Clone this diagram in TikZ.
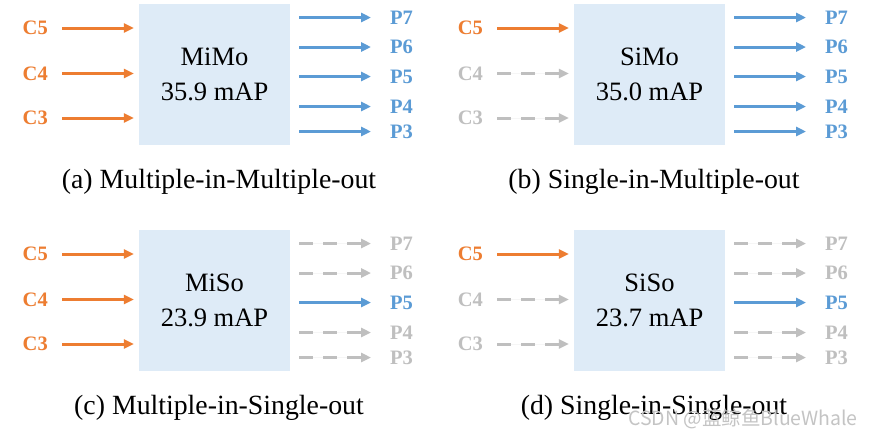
\documentclass[tikz,border=0pt]{standalone}
\usepackage{fontspec}
\setmainfont{Liberation Serif}
\newfontfamily\cjkwm{Noto Sans CJK SC}
\usetikzlibrary{arrows.meta}
\definecolor{orng}{HTML}{ED7D31}
\definecolor{blu}{HTML}{5B9BD5}
\definecolor{boxbg}{HTML}{DEEBF7}
\definecolor{gry}{HTML}{BFBFBF}
\definecolor{wmgry}{HTML}{C4C4C4}
\tikzset{
  arr/.style={line width=3pt, -{Triangle[length=10pt,width=9pt]}},
  inon/.style={arr, draw=orng, fill=orng},
  inoff/.style={arr, draw=gry, fill=gry, dash pattern=on 14pt off 10pt},
  outon/.style={arr, draw=blu, fill=blu},
  outoff/.style={arr, draw=gry, fill=gry, dash pattern=on 14pt off 10pt},
  labinon/.style={text=orng},
  labinoff/.style={text=gry},
  laboutson/.style={text=blu},
  laboutsoff/.style={text=gry},
  lab/.style={inner sep=0pt, font=\fontsize{20.5}{20.5}\selectfont\bfseries},
  core/.style={fill=boxbg, minimum width=151pt, minimum height=141pt, align=center,
    font=\fontsize{26.5}{35}\selectfont, inner sep=0pt},
  capt/.style={font=\fontsize{27.8}{30}\selectfont, inner sep=0pt},
  inarr/.style={shorten <=14pt, shorten >=5pt},
  outarr/.style={shorten <=9pt, shorten >=19pt},
}
\newcommand\fpnpanel[7]{%
\begin{scope}[shift={(#2,#3)}]
  \node[core] (#1box) at (214.5,74.5) {#4};
  % inputs
  \node[lab,labinon,anchor=east] (#1C5) at (48,28) {C5};
  \node[lab,labin#6,anchor=east] (#1C4) at (48,73.5) {C4};
  \node[lab,labin#6,anchor=east] (#1C3) at (48,118) {C3};
  \draw[inon,inarr] (#1C5.east) -- (#1box.west |- #1C5.east);
  \draw[in#6,inarr] (#1C4.east) -- (#1box.west |- #1C4.east);
  \draw[in#6,inarr] (#1C3.east) -- (#1box.west |- #1C3.east);
  % outputs
  \node[lab,labouts#7,anchor=west] (#1P7) at (390,17.5) {P7};
  \node[lab,labouts#7,anchor=west] (#1P6) at (390,47) {P6};
  \node[lab,laboutson,anchor=west] (#1P5) at (390,76.5) {P5};
  \node[lab,labouts#7,anchor=west] (#1P4) at (390,106.5) {P4};
  \node[lab,labouts#7,anchor=west] (#1P3) at (390,131.5) {P3};
  \draw[out#7,outarr] (#1box.east |- #1P7.west) -- (#1P7.west);
  \draw[out#7,outarr] (#1box.east |- #1P6.west) -- (#1P6.west);
  \draw[outon,outarr] (#1box.east |- #1P5.west) -- (#1P5.west);
  \draw[out#7,outarr] (#1box.east |- #1P4.west) -- (#1P4.west);
  \draw[out#7,outarr] (#1box.east |- #1P3.west) -- (#1P3.west);
  % caption
  \node[capt] (#1cap) at (219,181.5) {#5};
\end{scope}}
\begin{document}
\begin{tikzpicture}[x=1pt,y=-1pt]
  \useasboundingbox[fill=white] (0,0) rectangle (873,437);
  \fpnpanel{a}{0}{0}{MiMo\\35.9 mAP}{(a) Multiple-in-Multiple-out}{on}{on}
  \fpnpanel{b}{435}{0}{SiMo\\35.0 mAP}{(b) Single-in-Multiple-out}{off}{on}
  \fpnpanel{c}{0}{226}{MiSo\\23.9 mAP}{(c) Multiple-in-Single-out}{on}{off}
  \fpnpanel{d}{435}{226}{SiSo\\23.7 mAP}{(d) Single-in-Single-out}{off}{off}
  \node[inner sep=0pt, text=wmgry, font=\cjkwm\fontsize{19.5}{19.5}\selectfont] (wm) at (743,419) {CSDN @蓝鲸鱼BlueWhale};
\end{tikzpicture}
\end{document}
